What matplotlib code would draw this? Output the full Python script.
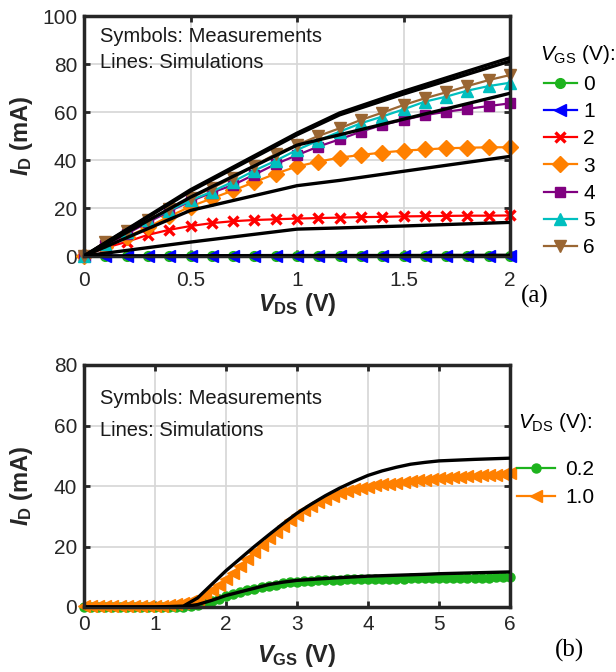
import matplotlib
matplotlib.use("Agg")
import matplotlib.pyplot as plt

plt.rcParams["font.family"] = ["Liberation Sans", "DejaVu Sans"]
plt.rcParams["mathtext.fontset"] = "custom"
plt.rcParams["mathtext.rm"] = "Liberation Sans"
plt.rcParams["mathtext.sf"] = "Liberation Sans"
plt.rcParams["mathtext.it"] = "Liberation Sans:italic"
plt.rcParams["mathtext.bf"] = "Liberation Sans:bold"
plt.rcParams["mathtext.bfit"] = "Liberation Sans:italic:bold"

# ---------------- (a) output characteristics ----------------
vds_meas = [0.0, 0.1, 0.2, 0.3, 0.4, 0.5, 0.6, 0.7, 0.8, 0.9, 1.0,
            1.1, 1.2, 1.3, 1.4, 1.5, 1.6, 1.7, 1.8, 1.9, 2.0]
id_meas_vgs0 = [0, 0, 0, 0, 0, 0, 0, 0, 0, 0, 0,
                0, 0, 0, 0, 0, 0, 0, 0, 0, 0]
id_meas_vgs1 = [0, 0.1, 0.1, 0.1, 0.1, 0.1, 0.1, 0.1, 0.1, 0.1, 0.1,
                0.1, 0.1, 0.1, 0.1, 0.1, 0.1, 0.1, 0.1, 0.1, 0.1]
id_meas_vgs2 = [0, 3.4, 5.9, 8.8, 10.9, 12.5, 13.7, 14.5, 15.0, 15.3, 15.6,
                15.8, 16.0, 16.2, 16.3, 16.5, 16.6, 16.7, 16.8, 16.8, 16.9]
id_meas_vgs3 = [0, 3.7, 7.9, 12.0, 16.5, 20.6, 24.0, 27.3, 30.8, 34.3, 37.3,
                39.3, 41.0, 42.1, 43.1, 43.9, 44.4, 44.9, 45.1, 45.3, 45.3]
id_meas_vgs4 = [0, 4.4, 9.2, 14.0, 18.6, 22.8, 26.4, 29.6, 33.9, 38.3, 42.0,
                45.6, 48.6, 51.8, 54.6, 56.7, 58.7, 60.1, 61.3, 62.5, 63.6]
id_meas_vgs5 = [0, 5.1, 9.9, 14.8, 18.9, 23.2, 26.8, 31.0, 35.6, 39.7, 44.2,
                48.1, 51.8, 55.3, 58.1, 61.1, 64.3, 66.4, 68.9, 70.8, 72.2]
id_meas_vgs6 = [0, 5.8, 10.6, 14.8, 19.6, 24.1, 28.3, 32.6, 37.7, 42.5, 46.3,
                50.0, 53.2, 56.7, 59.7, 62.9, 65.7, 68.2, 70.8, 73.3, 75.4]

vds_sim = [0.0, 0.5, 1.0, 1.2, 1.5, 2.0]
id_sim_vgs0 = [0, 0, 0, 0, 0, 0]
id_sim_vgs1 = [0, 0.1, 0.2, 0.2, 0.2, 0.3]
id_sim_vgs2 = [0, 5.8, 11.2, 11.7, 12.5, 14.0]
id_sim_vgs3 = [0, 19.0, 29.3, 31.5, 35.3, 41.5]
id_sim_vgs4 = [0, 24.5, 46.2, 50.5, 57.0, 67.8]
id_sim_vgs5 = [0, 27.0, 50.5, 58.8, 67.5, 81.2]
id_sim_vgs6 = [0, 27.6, 51.2, 59.6, 68.6, 82.6]

vgs_labels = ["0", "1", "2", "3", "4", "5", "6"]

# ---------------- (b) transfer characteristics ----------------
vgs_meas = [0.0, 0.1, 0.2, 0.3, 0.4, 0.5, 0.6, 0.7, 0.8, 0.9,
            1.0, 1.1, 1.2, 1.3, 1.4, 1.5, 1.6, 1.7, 1.8, 1.9,
            2.0, 2.1, 2.2, 2.3, 2.4, 2.5, 2.6, 2.7, 2.8, 2.9,
            3.0, 3.1, 3.2, 3.3, 3.4, 3.5, 3.6, 3.7, 3.8, 3.9,
            4.0, 4.1, 4.2, 4.3, 4.4, 4.5, 4.6, 4.7, 4.8, 4.9,
            5.0, 5.1, 5.2, 5.3, 5.4, 5.5, 5.6, 5.7, 5.8, 5.9, 6.0]
id_meas_vds02 = [0, 0, 0, 0, 0, 0, 0, 0, 0, 0,
                 0, 0, 0, 0, 0.1, 0.3, 0.7, 1.2, 1.9, 2.7,
                 3.5, 4.2, 4.9, 5.5, 6.0, 6.5, 7.0, 7.4, 7.8, 8.1,
                 8.3, 8.5, 8.7, 8.8, 8.9, 9.0, 9.05, 9.1, 9.15, 9.2,
                 9.25, 9.3, 9.3, 9.35, 9.4, 9.4, 9.45, 9.5, 9.5, 9.55,
                 9.6, 9.6, 9.65, 9.65, 9.7, 9.7, 9.75, 9.75, 9.8, 9.8, 9.85]
id_meas_vds10 = [0.3, 0.3, 0.3, 0.3, 0.3, 0.3, 0.3, 0.3, 0.3, 0.3,
                 0.3, 0.4, 0.6, 0.9, 1.3, 1.9, 2.8, 4.0, 5.5, 7.3,
                 9.3, 11.4, 13.6, 15.9, 18.2, 20.5, 22.7, 24.8, 26.8, 28.7,
                 30.4, 32.0, 33.4, 34.7, 35.8, 36.8, 37.6, 38.3, 38.9, 39.4,
                 39.8, 40.2, 40.5, 40.8, 41.1, 41.4, 41.6, 41.9, 42.1, 42.3,
                 42.5, 42.7, 42.9, 43.0, 43.2, 43.3, 43.5, 43.6, 43.8, 44.0, 44.2]

vgs_sim = [0.05, 0.5, 1.0, 1.4, 1.6, 1.8, 2.0, 2.2, 2.4, 2.6, 2.8, 3.0,
           3.2, 3.4, 3.6, 3.8, 4.0, 4.2, 4.4, 4.6, 4.8, 5.0, 5.5, 6.0]
id_sim_vds02 = [0, 0, 0, 0.1, 0.8, 2.2, 3.8, 5.0, 6.2, 7.4, 8.2, 8.8,
                9.1, 9.4, 9.7, 9.95, 10.2, 10.35, 10.5, 10.65, 10.8, 11.0, 11.3, 11.6]
id_sim_vds10 = [0, 0, 0, 0.3, 3.0, 7.5, 12.0, 16.0, 20.0, 23.8, 27.5, 31.0,
                34.0, 36.8, 39.3, 41.5, 43.5, 45.0, 46.2, 47.2, 47.8, 48.3, 48.8, 49.2]

vds_labels = ["0.2", "1.0"]

W, H = 616, 672
fig = plt.figure(figsize=(W / 100, H / 100), dpi=100)

FRAME = "#262626"
GRID = "#d6d6d6"
TICK_FS = 15
LABEL_FS = 17


def style_axes(ax, xpad):
    for sp in ax.spines.values():
        sp.set_linewidth(2.5)
        sp.set_color(FRAME)
    ax.grid(True, color=GRID, linewidth=1.2)
    ax.set_axisbelow(True)
    ax.tick_params(direction="in", length=4.5, width=2.0, top=True, right=True,
                   labelsize=TICK_FS, colors=FRAME)
    ax.tick_params(axis="x", pad=xpad)
    ax.tick_params(axis="y", pad=5)


def fx(px):
    return px / W


def fy(py):
    return 1 - py / H


# ---------------- panel (a) ----------------
ax1 = fig.add_axes([fx(84), fy(256), 426 / W, 240 / H])
style_axes(ax1, 11)

series_a = [
    (id_meas_vgs0, "#1db31d", "o", 7, {}),
    (id_meas_vgs1, "#0000ff", "<", 9, {}),
    (id_meas_vgs2, "#ff0000", "x", 6.5, {"markeredgewidth": 2.4}),
    (id_meas_vgs3, "#ff8000", "D", 8, {}),
    (id_meas_vgs4, "#800080", "s", 7, {}),
    (id_meas_vgs5, "#00bfbf", "^", 8, {}),
    (id_meas_vgs6, "#9a6633", "v", 8, {}),
]
handles_a = []
for (vals, col, mk, ms, extra), lab in zip(series_a, vgs_labels):
    h, = ax1.plot(vds_meas, vals, color=col, lw=1.6, marker=mk, ms=ms,
                  mfc=col, mec=col, clip_on=False, label=lab, **extra)
    handles_a.append(h)

for sim in [id_sim_vgs0, id_sim_vgs1, id_sim_vgs2, id_sim_vgs3,
            id_sim_vgs4, id_sim_vgs5, id_sim_vgs6]:
    ax1.plot(vds_sim, sim, color="black", lw=2.4, zorder=3)

ax1.set_xlim(0, 2)
ax1.set_ylim(0, 100)
ax1.set_xticks([0, 0.5, 1, 1.5, 2])
ax1.set_xticklabels(["0", "0.5", "1", "1.5", "2"])
ax1.set_yticks([0, 20, 40, 60, 80, 100])
ax1.set_xlabel(r"$\mathbfit{V}_{\mathbf{DS}}$ (V)", fontsize=LABEL_FS,
               fontweight="bold", color=FRAME)
ax1.set_ylabel(r"$\mathbfit{I}_{\mathbf{D}}$ (mA)", fontsize=LABEL_FS,
               fontweight="bold", color=FRAME)
ax1.xaxis.set_label_coords(0.5, -0.145)
ax1.yaxis.set_label_coords(-0.115, 0.5)

ax1.text(fx(100), fy(37), "Symbols: Measurements", transform=fig.transFigure,
         fontsize=14.5, va="center", ha="left", color="#1a1a1a")
ax1.text(fx(100), fy(63), "Lines: Simulations", transform=fig.transFigure,
         fontsize=14.5, va="center", ha="left", color="#1a1a1a")

fig.text(fx(540), fy(55), r"$V_{\mathrm{GS}}$ (V):", fontsize=TICK_FS,
         va="center", ha="left")
ax1.legend(handles=handles_a, loc="upper left",
           bbox_to_anchor=(fx(544), fy(75)), bbox_transform=fig.transFigure,
           frameon=False, fontsize=TICK_FS, borderpad=0, borderaxespad=0,
           handlelength=1.58, handletextpad=0.3, labelspacing=0.395)

fig.text(fx(535), fy(296), "(a)", fontsize=18, family="Liberation Serif",
         ha="center", va="center")

# ---------------- panel (b) ----------------
ax2 = fig.add_axes([fx(84), fy(607), 426 / W, 242 / H])
style_axes(ax2, 6)

h1, = ax2.plot(vgs_meas, id_meas_vds02, color="#1db31d", lw=1.6, marker="o",
               ms=6.5, mfc="#1db31d", mec="#1db31d", clip_on=False,
               label=vds_labels[0])
h2, = ax2.plot(vgs_meas, id_meas_vds10, color="#ff8000", lw=1.6, marker="<",
               ms=8.5, mfc="#ff8000", mec="#ff8000", clip_on=False,
               label=vds_labels[1])
ax2.plot(vgs_sim, id_sim_vds02, color="black", lw=2.4, zorder=3)
ax2.plot(vgs_sim, id_sim_vds10, color="black", lw=2.4, zorder=3)

ax2.set_xlim(0, 6)
ax2.set_ylim(0, 80)
ax2.set_xticks([0, 1, 2, 3, 4, 5, 6])
ax2.set_yticks([0, 20, 40, 60, 80])
ax2.set_xlabel(r"$\mathbfit{V}_{\mathbf{GS}}$ (V)", fontsize=LABEL_FS,
               fontweight="bold", color=FRAME)
ax2.set_ylabel(r"$\mathbfit{I}_{\mathbf{D}}$ (mA)", fontsize=LABEL_FS,
               fontweight="bold", color=FRAME)
ax2.xaxis.set_label_coords(0.5, -0.145)
ax2.yaxis.set_label_coords(-0.115, 0.5)

ax2.text(fx(100), fy(398), "Symbols: Measurements", transform=fig.transFigure,
         fontsize=14.5, va="center", ha="left", color="#1a1a1a")
ax2.text(fx(100), fy(431), "Lines: Simulations", transform=fig.transFigure,
         fontsize=14.5, va="center", ha="left", color="#1a1a1a")

fig.text(fx(518), fy(422), r"$V_{\mathrm{DS}}$ (V):", fontsize=TICK_FS,
         va="center", ha="left")
ax2.legend(handles=[h1, h2], loc="upper left",
           bbox_to_anchor=(fx(517), fy(460)), bbox_transform=fig.transFigure,
           frameon=False, fontsize=TICK_FS, borderpad=0, borderaxespad=0,
           handlelength=1.82, handletextpad=0.48, labelspacing=0.43)

fig.text(fx(569), fy(650), "(b)", fontsize=18, family="Liberation Serif",
         ha="center", va="center")

fig.savefig("out.png", dpi=100)
